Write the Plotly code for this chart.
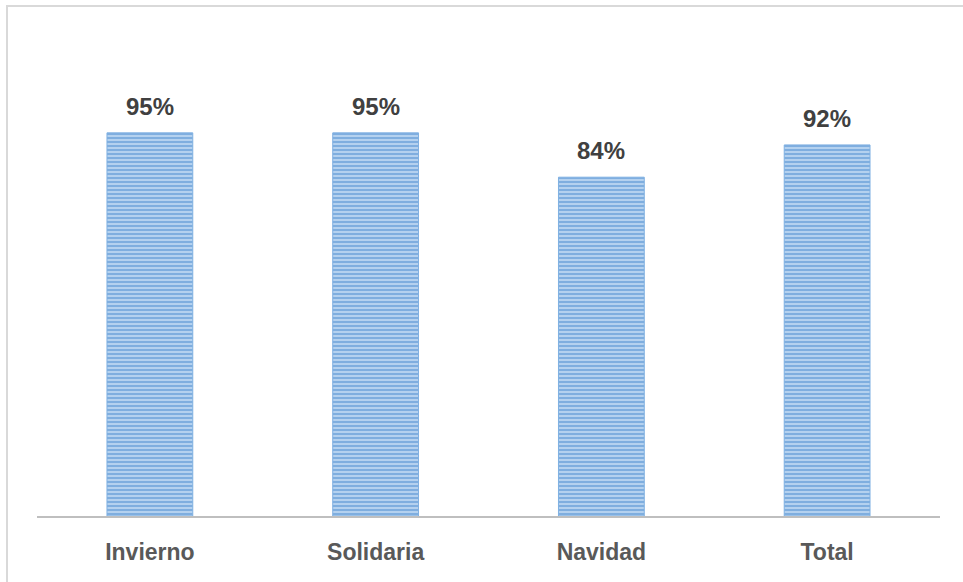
import plotly.graph_objects as go

categories = ["Invierno", "Solidaria", "Navidad", "Total"]
values = [0.95, 0.95, 0.84, 0.92]
labels = ["95%", "95%", "84%", "92%"]

fig = go.Figure()
fig.add_trace(go.Bar(
    x=categories, y=values,
    marker=dict(
        color="#9dc3e6",
        line=dict(color="#7fb0e2", width=1),
        pattern=dict(shape="-", fgcolor="#4a8bcf", bgcolor="#b4d1ef", size=4, solidity=0.5),
    ),
    hoverinfo="skip",
))

for c, v, t in zip(categories, values, labels):
    fig.add_annotation(x=c, y=v, text="<b>%s</b>" % t, showarrow=False,
                       yanchor="bottom", yshift=11,
                       font=dict(family="Liberation Sans, Arial", size=24, color="#404040"))

# outer chart frame (light gray)
fig.add_shape(type="path", xref="paper", yref="paper",
              path="M -0.0332 -0.3 L -0.0332 1.0537 L 1.1 1.0537",
              line=dict(color="#d9d9d9", width=2))

fig.update_layout(
    width=963, height=582,
    margin=dict(l=37, r=23, t=32, b=66),
    paper_bgcolor="white", plot_bgcolor="white",
    bargap=0.62,
    showlegend=False,
    xaxis=dict(showline=True, linecolor="#bfbfbf", linewidth=2, ticks="",
               showgrid=False, zeroline=False, ticklabelstandoff=14,
               tickfont=dict(family="Liberation Sans, Arial", size=23, color="#595959")),
    yaxis=dict(range=[0, 1.2], visible=False, showgrid=False, zeroline=False),
    font=dict(family="Liberation Sans, Arial"),
)
fig.update_xaxes(tickprefix="<b>", ticksuffix="</b>")

fig.write_html("out.html", config={"displayModeBar": False},
               post_script="document.body.style.margin='0';document.body.style.overflow='hidden';")
